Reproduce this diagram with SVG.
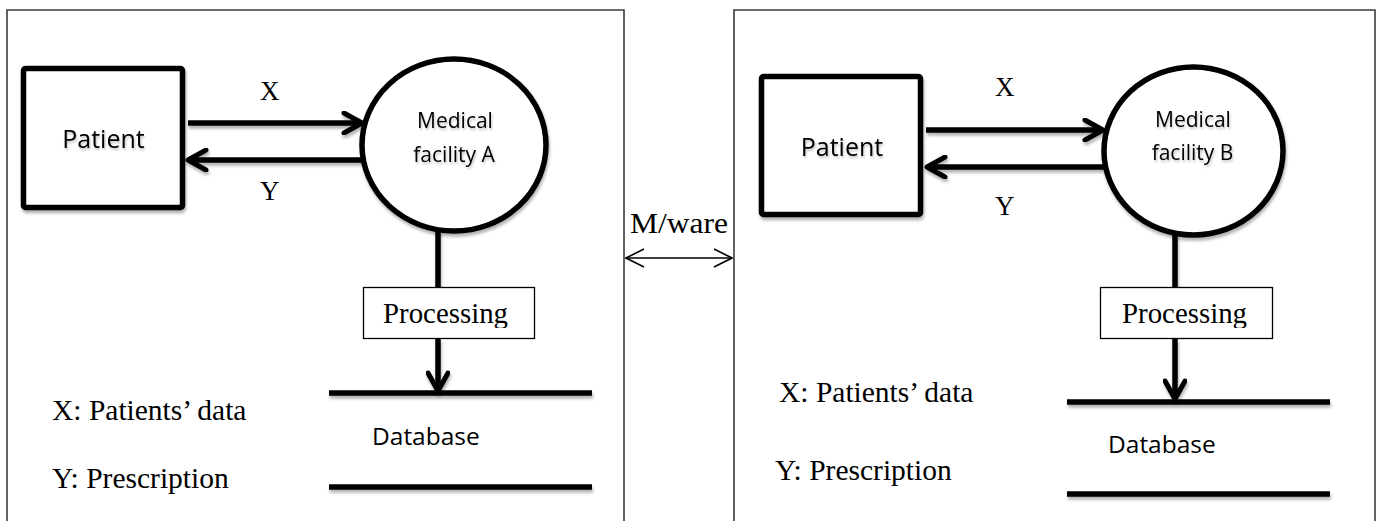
<svg xmlns="http://www.w3.org/2000/svg" width="1382" height="521" viewBox="0 0 1382 521">
<style>
  .panel{fill:none;stroke:#3c3c3c;stroke-width:1.6}
  .box{fill:#fff;stroke:#000;stroke-width:5.5}
  .proc{fill:#fff;stroke:#000;stroke-width:1.3}
  .flow{fill:none;stroke:#000;stroke-width:5.5}
  .store{fill:none;stroke:#000;stroke-width:5.5}
  .thin{fill:none;stroke:#000;stroke-width:1.6}
  .sans{font-family:"Open Sans","Liberation Sans",sans-serif;fill:#000}
  .serif{font-family:"Liberation Serif","Times New Roman",serif;fill:#000}
</style>
<defs>
  <filter id="sh" filterUnits="userSpaceOnUse" x="0" y="0" width="1382" height="521">
    <feDropShadow dx="1" dy="3" stdDeviation="1.6" flood-color="#000" flood-opacity="0.3"/>
  </filter>
  <filter id="tsh" filterUnits="userSpaceOnUse" x="0" y="0" width="1382" height="521">
    <feDropShadow dx="1" dy="2" stdDeviation="1.2" flood-color="#000" flood-opacity="0.25"/>
  </filter>
  <marker id="ah" viewBox="0 0 24 24" markerWidth="24" markerHeight="24" refX="21" refY="12" orient="auto" markerUnits="userSpaceOnUse">
    <path d="M3,2 L21,12 L3,22" fill="none" stroke="#000" stroke-width="5" stroke-linejoin="round" stroke-linecap="round"/>
  </marker>
  <marker id="ahThin" viewBox="0 0 20 20" markerWidth="20" markerHeight="20" refX="19" refY="10" orient="auto-start-reverse" markerUnits="userSpaceOnUse">
    <path d="M1,1 L19,10 L1,19" fill="none" stroke="#000" stroke-width="1.6"/>
  </marker>
  <clipPath id="clipA"><rect x="363" y="287" width="172" height="41"/></clipPath>
  <clipPath id="clipB"><rect x="1100" y="287" width="173" height="41"/></clipPath>
</defs>

<g id="panel-a">
  <path class="panel" d="M7,521 V10 H624 V521"/>
</g>
<g id="panel-b">
  <path class="panel" d="M734,521 V10 H1375 V521"/>
</g>

<g id="connectors">
  <line class="flow" x1="188" y1="123" x2="362" y2="123" marker-end="url(#ah)" filter="url(#sh)"/>
  <line class="flow" x1="362" y1="160" x2="188" y2="160" marker-end="url(#ah)" filter="url(#sh)"/>
  <line class="flow" x1="438" y1="230" x2="438" y2="287" filter="url(#sh)"/>
  <line class="flow" x1="438" y1="339" x2="438" y2="391" marker-end="url(#ah)" filter="url(#sh)"/>

  <line class="flow" x1="926" y1="130" x2="1103" y2="130" marker-end="url(#ah)" filter="url(#sh)"/>
  <line class="flow" x1="1104" y1="167" x2="927" y2="167" marker-end="url(#ah)" filter="url(#sh)"/>
  <line class="flow" x1="1175" y1="233" x2="1175" y2="287" filter="url(#sh)"/>
  <line class="flow" x1="1175" y1="339" x2="1175" y2="399" marker-end="url(#ah)" filter="url(#sh)"/>

  <line class="thin" x1="626" y1="258" x2="732" y2="258" marker-start="url(#ahThin)" marker-end="url(#ahThin)"/>
  <text class="serif" x="630" y="233" font-size="29" textLength="98" lengthAdjust="spacingAndGlyphs">M/ware</text>

  <text class="serif" x="260" y="100" font-size="27">X</text>
  <text class="serif" x="260" y="200" font-size="27">Y</text>
  <text class="serif" x="995" y="96" font-size="27">X</text>
  <text class="serif" x="995" y="215" font-size="27">Y</text>
</g>

<g id="patient-a">
  <rect class="box" x="23.5" y="68.5" width="159" height="139" rx="2" filter="url(#sh)"/>
  <text class="sans" x="103.5" y="148" font-size="25" text-anchor="middle" filter="url(#tsh)">Patient</text>
</g>
<g id="facility-a">
  <ellipse class="box" cx="454" cy="145" rx="92" ry="86" filter="url(#sh)"/>
  <text class="sans" x="455" y="128" font-size="21" text-anchor="middle" filter="url(#tsh)">Medical</text>
  <text class="sans" x="454" y="162" font-size="21" text-anchor="middle" filter="url(#tsh)">facility A</text>
</g>
<g id="processing-a">
  <rect class="proc" x="363.5" y="287.5" width="171" height="51"/>
  <text class="serif" x="383" y="323" font-size="28.5" textLength="125" lengthAdjust="spacingAndGlyphs" clip-path="url(#clipA)">Processing</text>
</g>
<g id="database-a">
  <line class="store" x1="329" y1="393" x2="592" y2="393" filter="url(#sh)"/>
  <line class="store" x1="329" y1="487" x2="592" y2="487" filter="url(#sh)"/>
  <text class="sans" x="372" y="445" font-size="24.5">Database</text>
</g>
<g id="legend-a">
  <text class="serif" x="52" y="420" font-size="29.5">X: Patients’ data</text>
  <text class="serif" x="52" y="488" font-size="29.5">Y: Prescription</text>
</g>

<g id="patient-b">
  <rect class="box" x="761.5" y="76.5" width="159" height="138" rx="2" filter="url(#sh)"/>
  <text class="sans" x="842" y="156" font-size="25" text-anchor="middle" filter="url(#tsh)">Patient</text>
</g>
<g id="facility-b">
  <ellipse class="box" cx="1193.5" cy="151" rx="89.5" ry="84" filter="url(#sh)"/>
  <text class="sans" x="1193" y="127" font-size="21" text-anchor="middle" filter="url(#tsh)">Medical</text>
  <text class="sans" x="1192.5" y="160" font-size="21" text-anchor="middle" filter="url(#tsh)">facility B</text>
</g>
<g id="processing-b">
  <rect class="proc" x="1100.5" y="287.5" width="172" height="51"/>
  <text class="serif" x="1122" y="323" font-size="28.5" textLength="125" lengthAdjust="spacingAndGlyphs" clip-path="url(#clipB)">Processing</text>
</g>
<g id="database-b">
  <line class="store" x1="1067" y1="402" x2="1330" y2="402" filter="url(#sh)"/>
  <line class="store" x1="1067" y1="494" x2="1330" y2="494" filter="url(#sh)"/>
  <text class="sans" x="1108" y="453" font-size="24.5">Database</text>
</g>
<g id="legend-b">
  <text class="serif" x="779" y="402" font-size="29.5">X: Patients’ data</text>
  <text class="serif" x="775" y="480" font-size="29.5">Y: Prescription</text>
</g>
</svg>
